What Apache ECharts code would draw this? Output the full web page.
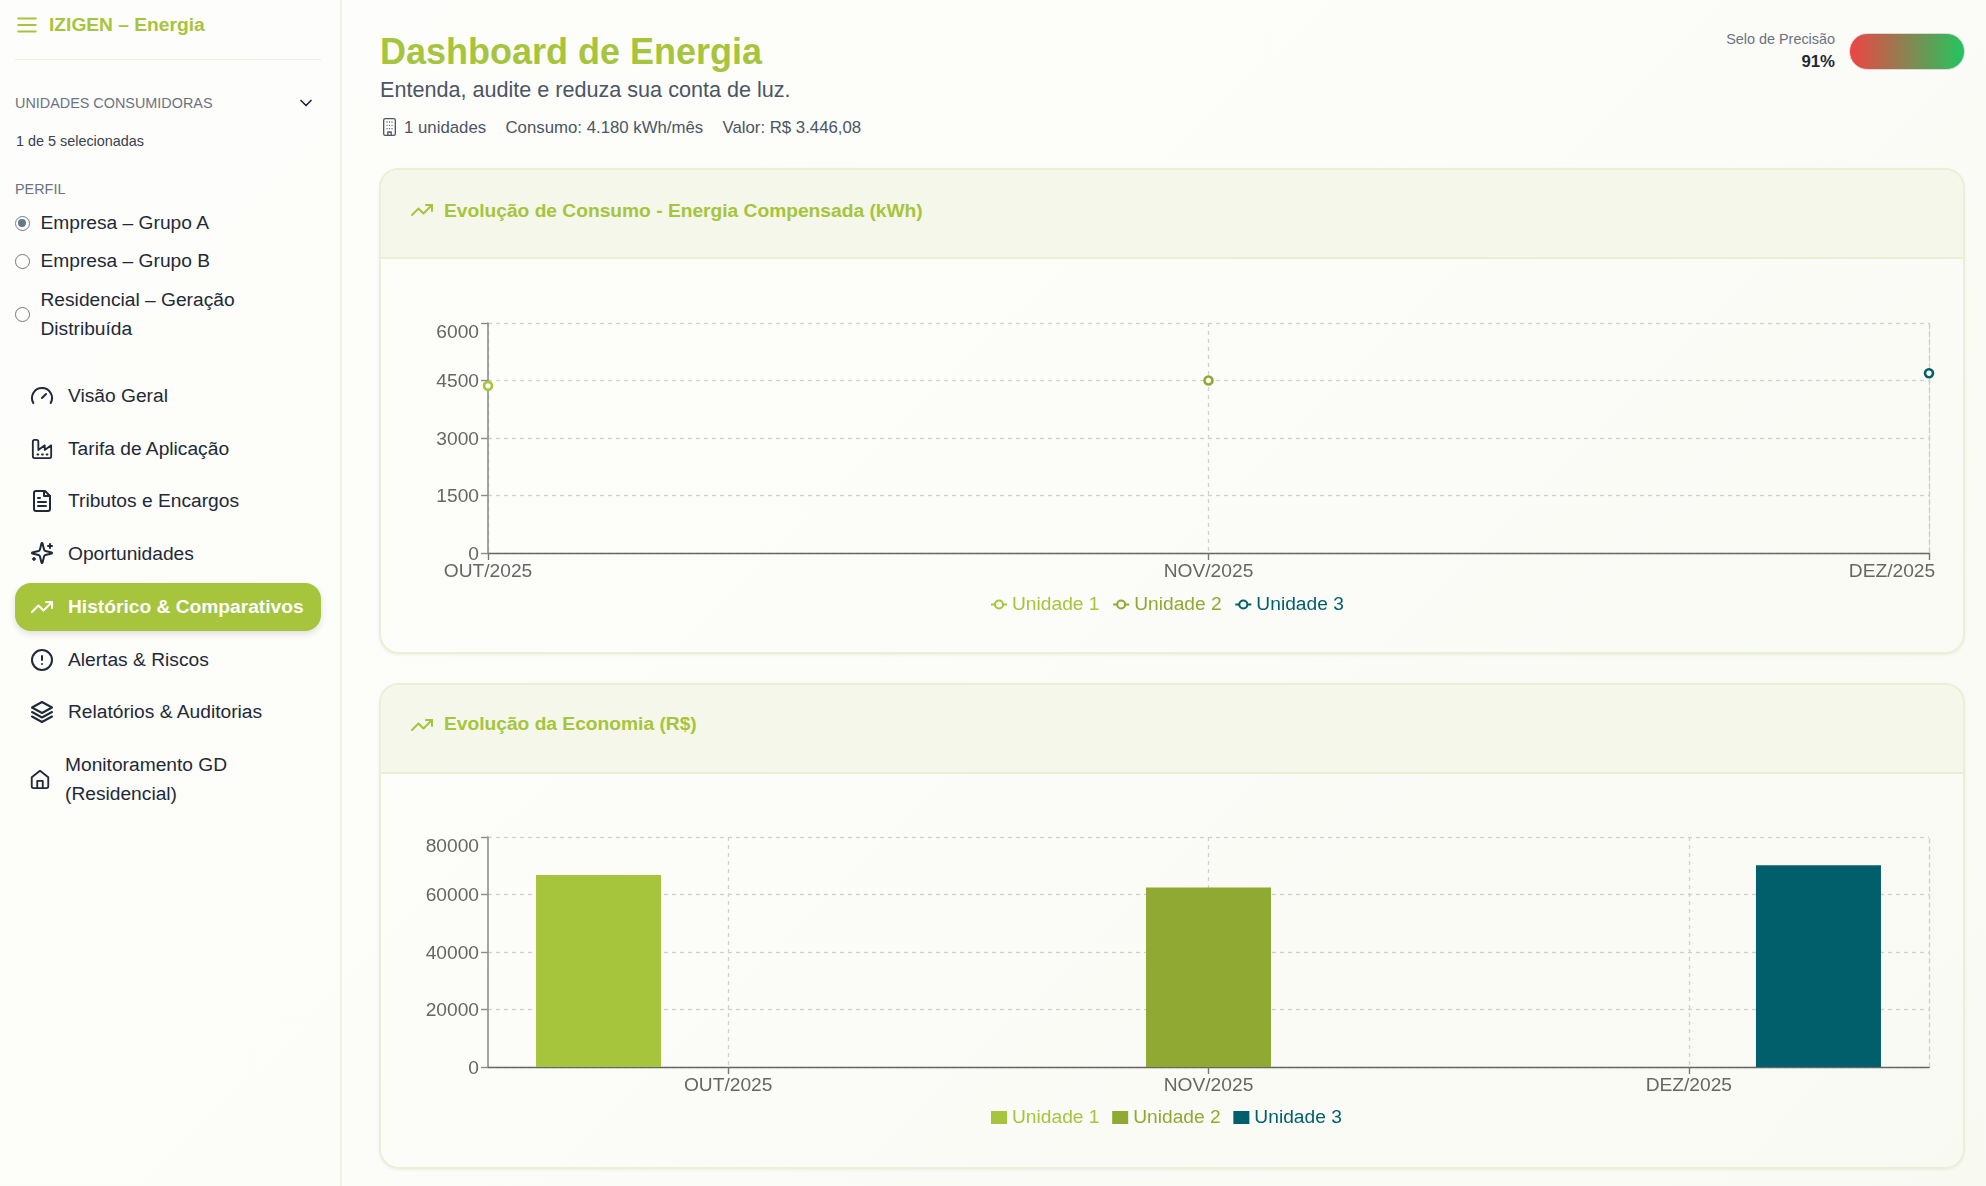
<!DOCTYPE html>
<html lang="pt-BR">
<head>
<meta charset="utf-8">
<title>Dashboard de Energia</title>
<script src="https://cdn.jsdelivr.net/npm/echarts@6/dist/echarts.min.js"></script>
<style>
  * { box-sizing: border-box; }
  html, body { margin: 0; width: 1986px; height: 1186px; overflow: hidden; }
  body {
    position: relative;
    font-family: "Liberation Sans", Arial, sans-serif;
    color: #1f2937;
    background: linear-gradient(135deg, #fdfdfb 0%, #fcfcf9 45%, #f8faf2 100%);
  }
  .abs { position: absolute; white-space: nowrap; }
  #sidebar { position: absolute; left: 0; top: 0; width: 342px; height: 1186px; border-right: 2px solid #f1f4e2; }
  .sep { position: absolute; left: 15px; top: 59px; width: 306px; height: 1px; background: #eef2dc; }
  .label { font-size: 14.4px; color: #6b7280; }
  .radio { position: absolute; width: 15px; height: 15px; border: 1.2px solid #767676; border-radius: 50%; background: #fff; }
  .radio.on { border-color: #6d7f8c; }
  .radio.on::after { content: ""; position: absolute; left: 2.3px; top: 2.3px; width: 8px; height: 8px; border-radius: 50%; background: #64788a; }
  .item { font-size: 19.2px; color: #1f2937; }
  .nav-icon { position: absolute; width: 24px; height: 24px; fill: none; stroke: #1f2937; stroke-width: 2; stroke-linecap: round; stroke-linejoin: round; }
  #active { position: absolute; left: 15px; top: 583px; width: 306px; height: 48px; border-radius: 16px; background: #a6c43c; box-shadow: 0 3px 6px rgba(0,0,0,.12); }
  .card { position: absolute; left: 379px; width: 1586px; border: 2px solid #eaf0d6; border-radius: 20px; overflow: hidden; box-shadow: 0 1px 3px rgba(0,0,0,.06); }
  .card-head { position: absolute; left: 0; top: 0; right: 0; height: 89px; background: #f4f7e9; border-bottom: 2px solid #e9efd3; }
  .card-title { position: absolute; left: 63px; font-size: 19.2px; font-weight: bold; color: #a6c43c; white-space: nowrap; }
  .chart { position: absolute; left: 380px; width: 1600px; height: 320px; }
</style>
</head>
<body>
<div id="sidebar">
  <svg class="nav-icon" style="left:14px;top:12px;width:26px;height:26px;stroke:#a6c43c" viewBox="0 0 24 24"><path d="M4 6h16M4 12h16M4 18h16"/></svg>
  <div class="abs" style="left:49px;top:14px;font-size:19.2px;font-weight:bold;color:#a6c43c">IZIGEN – Energia</div>
  <div class="sep"></div>
  <div class="abs label" style="left:15px;top:95px">UNIDADES CONSUMIDORAS</div>
  <svg class="nav-icon" style="left:296px;top:93px;width:20px;height:20px" viewBox="0 0 24 24"><path d="M6 9l6 6 6-6"/></svg>
  <div class="abs" style="left:16px;top:133px;font-size:14.4px;color:#374151">1 de 5 selecionadas</div>
  <div class="abs label" style="left:15px;top:181px">PERFIL</div>
  <div class="radio on" style="left:15px;top:216px"></div>
  <div class="abs item" style="left:40.5px;top:212px">Empresa – Grupo A</div>
  <div class="radio" style="left:15px;top:254px"></div>
  <div class="abs item" style="left:40.5px;top:250px">Empresa – Grupo B</div>
  <div class="radio" style="left:15px;top:307px"></div>
  <div class="abs item" style="left:40.5px;top:285px;line-height:29px">Residencial – Geração<br>Distribuída</div>

  <svg class="nav-icon" style="left:30px;top:384px" viewBox="0 0 24 24"><path d="M12 14l4-4M3.3 19a10 10 0 1 1 17.4 0"/></svg>
  <div class="abs item" style="left:68px;top:385px">Visão Geral</div>
  <svg class="nav-icon" style="left:31px;top:438px;width:22px;height:22px" viewBox="0 0 24 24"><path d="M2 20a2 2 0 0 0 2 2h16a2 2 0 0 0 2-2V8l-7 5V8l-7 5V4a2 2 0 0 0-2-2H4a2 2 0 0 0-2 2Z"/><path d="M17 18h1M12 18h1M7 18h1"/></svg>
  <div class="abs item" style="left:68px;top:438px">Tarifa de Aplicação</div>
  <svg class="nav-icon" style="left:30px;top:489px" viewBox="0 0 24 24"><path d="M15 2H6a2 2 0 0 0-2 2v16a2 2 0 0 0 2 2h12a2 2 0 0 0 2-2V7z"/><path d="M14 2v5h6M16 13H8M16 17H8M10 9H8"/></svg>
  <div class="abs item" style="left:68px;top:490px">Tributos e Encargos</div>
  <svg class="nav-icon" style="left:30px;top:541px" viewBox="0 0 24 24"><path d="M9.937 15.5A2 2 0 0 0 8.5 14.063l-6.135-1.582a.5.5 0 0 1 0-.962L8.5 9.936A2 2 0 0 0 9.937 8.5l1.582-6.135a.5.5 0 0 1 .963 0L14.063 8.5A2 2 0 0 0 15.5 9.937l6.135 1.581a.5.5 0 0 1 0 .964L15.5 14.063a2 2 0 0 0-1.437 1.437l-1.582 6.135a.5.5 0 0 1-.963 0z"/><path d="M20 3v4M22 5h-4M4 17v2M5 18H3"/></svg>
  <div class="abs item" style="left:68px;top:543px">Oportunidades</div>

  <div id="active"></div>
  <svg class="nav-icon" style="left:30px;top:595px;stroke:#fff" viewBox="0 0 24 24"><path d="M22 7l-8.5 8.5-5-5L2 17"/><path d="M16 7h6v6"/></svg>
  <div class="abs item" style="left:68px;top:596px;font-weight:bold;color:#fff">Histórico &amp; Comparativos</div>

  <svg class="nav-icon" style="left:30px;top:648px" viewBox="0 0 24 24"><circle cx="12" cy="12" r="10"/><path d="M12 8v4M12 16h.01"/></svg>
  <div class="abs item" style="left:68px;top:649px">Alertas &amp; Riscos</div>
  <svg class="nav-icon" style="left:30px;top:700px" viewBox="0 0 24 24"><path d="M12 2L2 7.5l10 5.5 10-5.5z"/><path d="M2 12l10 5.5L22 12M2 16.5L12 22l10-5.5"/></svg>
  <div class="abs item" style="left:68px;top:701px">Relatórios &amp; Auditorias</div>
  <svg class="nav-icon" style="left:29px;top:768px;width:22px;height:22px" viewBox="0 0 24 24"><path d="M3 10l9-7 9 7v10a2 2 0 0 1-2 2H5a2 2 0 0 1-2-2z"/><path d="M9 22v-8h6v8"/></svg>
  <div class="abs item" style="left:65px;top:750px;line-height:29px">Monitoramento GD<br>(Residencial)</div>
</div>

<div class="abs" style="left:380px;top:31px;font-size:36px;font-weight:bold;color:#a6c43c">Dashboard de Energia</div>
<div class="abs" style="left:380px;top:77px;font-size:21.6px;color:#4b5563">Entenda, audite e reduza sua conta de luz.</div>
<svg class="nav-icon" style="left:380px;top:117px;width:19px;height:20px;stroke:#4b5563;stroke-width:1.6" viewBox="0 0 20 24"><rect x="3" y="2" width="14" height="20" rx="2"/><path d="M7 6h.01M10 6h.01M13 6h.01M7 10h.01M10 10h.01M13 10h.01M7 14h.01M10 14h.01M13 14h.01M8 22v-4h4v4"/></svg>
<div class="abs" style="left:404px;top:118px;font-size:16.8px;color:#4b5563">1 unidades</div>
<div class="abs" style="left:505.5px;top:118px;font-size:16.8px;color:#4b5563">Consumo: 4.180 kWh/mês</div>
<div class="abs" style="left:722.5px;top:118px;font-size:16.8px;color:#4b5563">Valor: R$ 3.446,08</div>

<div class="abs" style="right:151px;top:31px;font-size:14.4px;color:#6b7280">Selo de Precisão</div>
<div class="abs" style="right:151px;top:52px;font-size:16.8px;font-weight:bold;color:#1f2937">91%</div>
<div class="abs" style="left:1849px;top:33px;width:116px;height:37px;border-radius:18.5px;border:1px solid #d9d9d9;background:linear-gradient(90deg,#ef4444,#22c55e)"></div>

<div class="card" style="top:168px;height:486px">
  <div class="card-head"></div>
  <svg class="nav-icon" style="left:29px;top:28px;stroke:#a6c43c" viewBox="0 0 24 24"><path d="M22 7l-8.5 8.5-5-5L2 17"/><path d="M16 7h6v6"/></svg>
  <div class="card-title" style="top:30px">Evolução de Consumo - Energia Compensada (kWh)</div>
</div>
<div class="card" style="top:683px;height:486px">
  <div class="card-head"></div>
  <svg class="nav-icon" style="left:29px;top:28px;stroke:#a6c43c" viewBox="0 0 24 24"><path d="M22 7l-8.5 8.5-5-5L2 17"/><path d="M16 7h6v6"/></svg>
  <div class="card-title" style="top:28px">Evolução da Economia (R$)</div>
</div>

<div id="consumo-chart" class="chart" style="top:300px"></div>
<div id="economia-chart" class="chart" style="top:814px"></div>

<script>
const months = ['OUT/2025', 'NOV/2025', 'DEZ/2025'];
const unitNames = ['Unidade 1', 'Unidade 2', 'Unidade 3'];
const unitColors = ['#a6c43c', '#90a932', '#005f6b'];

const consumoUnidade1 = [4360, null, null];
const consumoUnidade2 = [null, 4500, null];
const consumoUnidade3 = [null, null, 4690];
const consumoTicks = { min: 0, max: 6000, interval: 1500 };

const economiaUnidade1 = [66800, null, null];
const economiaUnidade2 = [null, 62400, null];
const economiaUnidade3 = [null, null, 70200];
const economiaTicks = { min: 0, max: 80000, interval: 20000 };

const fontFamily = '"Liberation Sans", Arial, sans-serif';
const gridLine = { show: true, lineStyle: { color: '#d0d0d0', type: [4, 4], width: 1.3 } };

function legendFor(icon, itemHeight, left, top) {
  return {
    left: left,
    top: top,
    icon: icon,
    itemWidth: 16,
    itemHeight: itemHeight,
    itemGap: 12.7,
    padding: 0,
    data: unitNames.map((name, i) => ({ name: name, textStyle: { color: unitColors[i], fontSize: 19.2, fontFamily: fontFamily } })),
  };
}

function valueAxis(ticks) {
  return [
    {
      type: 'value',
      min: ticks.min,
      max: ticks.max,
      interval: ticks.interval,
      axisLine: { show: true, lineStyle: { color: '#8c8c8c', width: 1.6 } },
      axisTick: { show: true, length: 7, lineStyle: { color: '#8c8c8c', width: 1.4 } },
      axisLabel: {
        color: '#666',
        fontSize: 19.2,
        fontFamily: fontFamily,
        margin: 9,
        padding: [3, 0, 0, 0],
        // the top label sits below its tick
        formatter: (value) => (value === ticks.max ? '{top|' + value + '}' : String(value)),
        rich: { top: { color: '#666', fontSize: 19.2, fontFamily: fontFamily, padding: [17, 0, 0, 0] } },
      },
      splitLine: gridLine,
    },
    {
      // dashed closing line on the right side of the plot
      type: 'value',
      position: 'right',
      min: ticks.min,
      max: ticks.max,
      interval: ticks.interval,
      axisLine: { show: true, lineStyle: { color: '#d0d0d0', type: [4, 4], width: 1.3 } },
      axisTick: { show: false },
      axisLabel: { show: false },
      splitLine: { show: false },
    },
  ];
}

const consumoChart = echarts.init(document.getElementById('consumo-chart'));
consumoChart.setOption({
  animation: false,
  grid: { left: 108, right: 51, top: 23, height: 230 },
  legend: legendFor(undefined, 10, 610, 295),
  xAxis: {
    type: 'category',
    data: months,
    boundaryGap: false,
    axisLine: { lineStyle: { color: '#666', width: 1.4 } },
    axisTick: { show: true, length: 7, lineStyle: { color: '#777', width: 1.4 } },
    axisLabel: {
      color: '#666',
      fontSize: 19.2,
      fontFamily: fontFamily,
      margin: 9,
      formatter: (value) => (value === months[2] ? '{last|' + value + '}' : value),
      rich: { last: { color: '#666', fontSize: 19.2, fontFamily: fontFamily, padding: [0, 74, 0, 0] } },
    },
    splitLine: gridLine,
  },
  yAxis: valueAxis(consumoTicks),
  series: [consumoUnidade1, consumoUnidade2, consumoUnidade3].map((values, i) => ({
    name: unitNames[i],
    type: 'line',
    data: values,
    symbol: 'circle',
    symbolSize: 8,
    showSymbol: true,
    showAllSymbol: true,
    clip: false,
    connectNulls: false,
    lineStyle: { color: unitColors[i], width: 2 },
    itemStyle: { color: '#fbfcf7', borderColor: unitColors[i], borderWidth: 2.6 },
  })),
});

const economiaChart = echarts.init(document.getElementById('economia-chart'));
economiaChart.setOption({
  animation: false,
  grid: { left: 108, right: 51, top: 23, height: 230 },
  legend: legendFor('rect', 13, 611, 294),
  xAxis: {
    type: 'category',
    data: months,
    axisLine: { lineStyle: { color: '#666', width: 1.4 } },
    axisTick: { show: true, length: 7, alignWithLabel: true, lineStyle: { color: '#777', width: 1.4 } },
    axisLabel: { color: '#666', fontSize: 19.2, fontFamily: fontFamily, margin: 9 },
    splitLine: { show: true, alignWithLabel: true, lineStyle: gridLine.lineStyle },
  },
  yAxis: valueAxis(economiaTicks),
  series: [economiaUnidade1, economiaUnidade2, economiaUnidade3].map((values, i) => ({
    name: unitNames[i],
    type: 'bar',
    data: values,
    barWidth: 125,
    barGap: '3.7%',
    itemStyle: { color: unitColors[i] },
  })),
});
</script>
</body>
</html>
